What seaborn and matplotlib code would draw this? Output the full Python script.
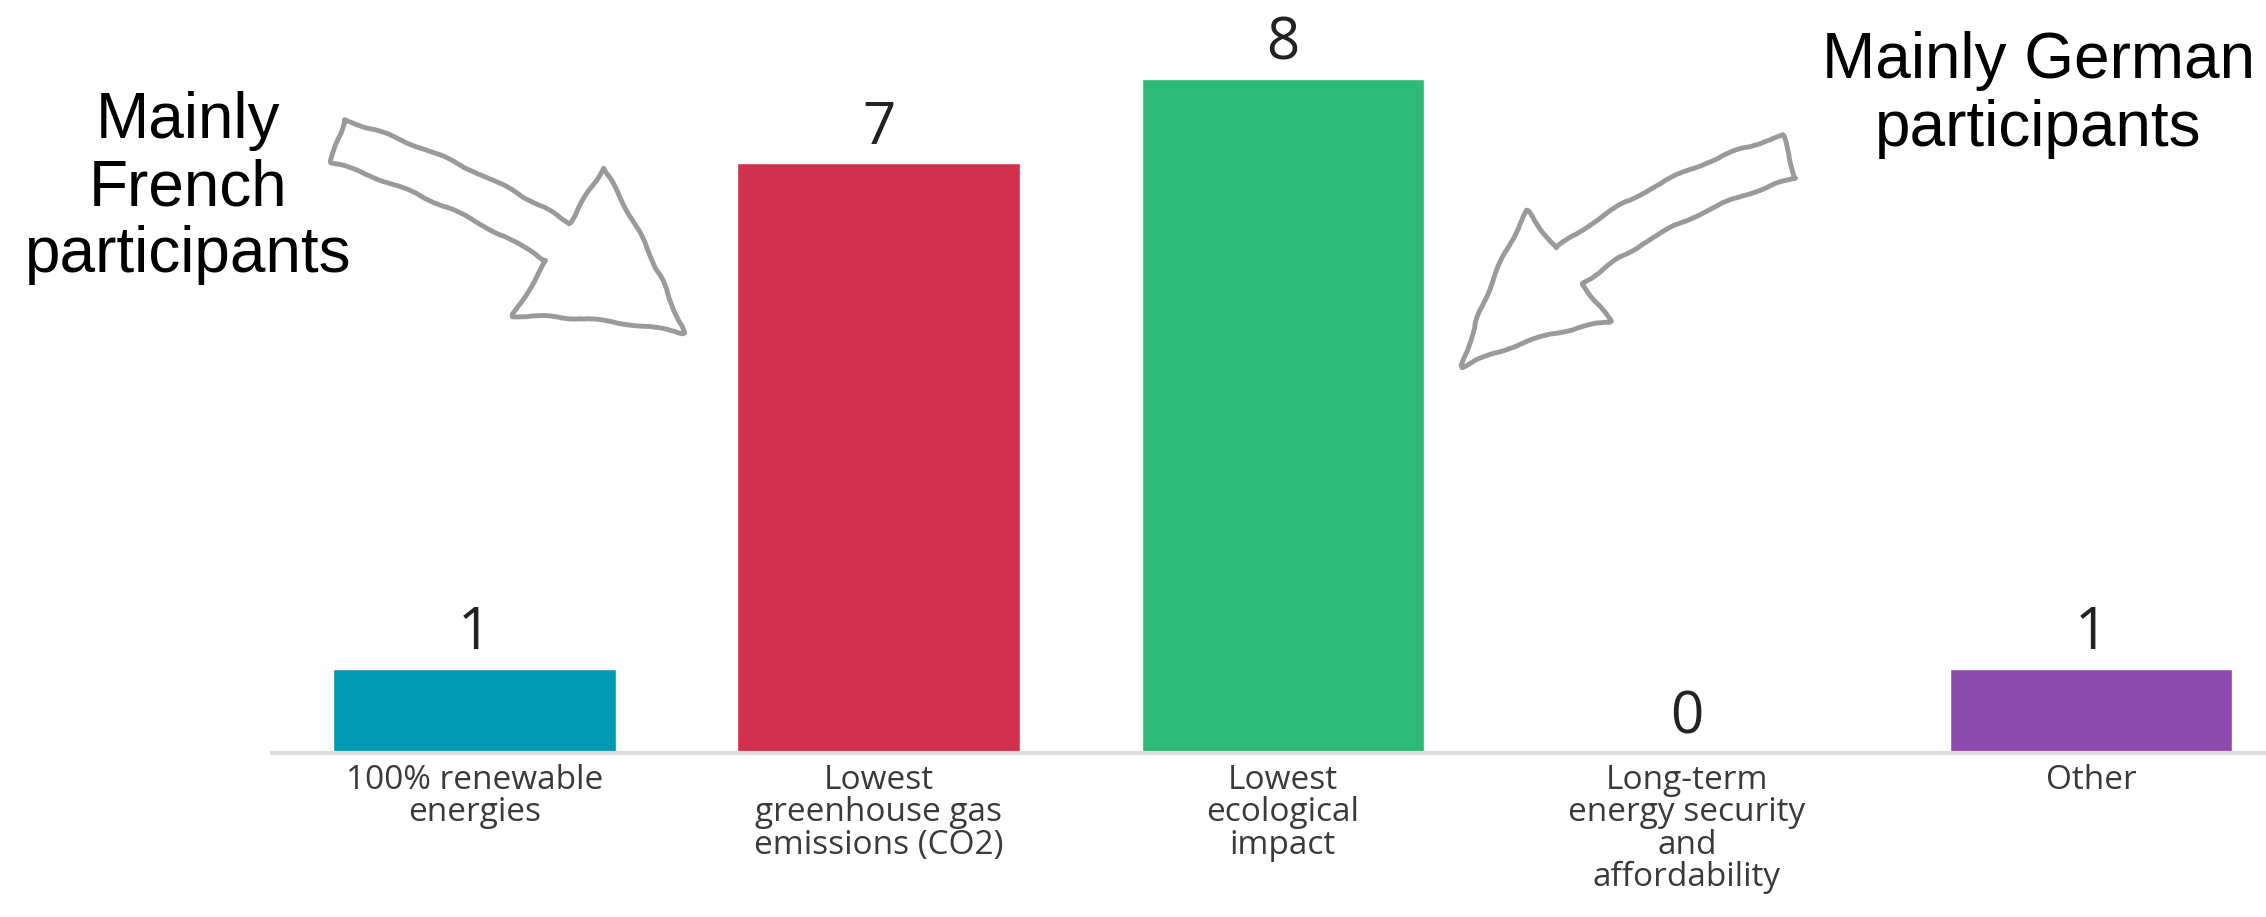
import pandas as pd
import matplotlib.pyplot as plt
import seaborn as sns
from matplotlib.patches import FancyArrowPatch

categories = ['100% renewable\nenergies', 'Lowest\ngreenhouse gas\nemissions (CO2)',
              'Lowest\necological\nimpact', 'Long-term\nenergy security\nand\naffordability', 'Other']
votes = [1, 7, 8, 0, 1]
colors = ['#0099B6', '#D3304C', '#2DB976', '#8E4BAE', '#8E4BAE']

data = pd.DataFrame({'category': categories, 'votes': votes})

sns.set_style('white')
plt.rcParams['font.family'] = ['Open Sans', 'DejaVu Sans']

fig = plt.figure(figsize=(22.66, 9.17), dpi=100)
ax = fig.add_axes([272 / 2266, 164 / 917, 1 - 272 / 2266, 753 / 917])

sns.barplot(x='category', y='votes', hue='category', data=data, palette=colors,
            width=0.7, legend=False, saturation=1, ax=ax)

for c in ax.containers:
    ax.bar_label(c, padding=4, fontsize=42, color='#222222')

ax.set_xlim(-0.502, 4.433)
ax.set_ylim(0, 8.94)
ax.set_xlabel('')
ax.set_ylabel('')
ax.set_yticks([])
ax.tick_params(axis='x', length=0, pad=8, labelsize=24, labelcolor='#3a3a3a')
for lab in ax.get_xticklabels():
    lab.set_linespacing(0.97)
for s in ['top', 'left', 'right']:
    ax.spines[s].set_visible(False)
ax.spines['bottom'].set_color('#dddddd')
ax.spines['bottom'].set_linewidth(3)

# annotations
fig.text(188 / 2266, 1 - 188 / 917, 'Mainly\nFrench\nparticipants', ha='center', va='center',
         fontsize=46, family=['Liberation Sans', 'DejaVu Sans'], color='black', linespacing=1.15)
fig.text(2038 / 2266, 1 - 95 / 917, 'Mainly German\nparticipants', ha='center', va='center',
         fontsize=46, family=['Liberation Sans', 'DejaVu Sans'], color='black', linespacing=1.15)

def px(x, y):
    return (x / 2266, 1 - y / 917)

arrows = [
    (px(335, 140), px(686, 335), -0.1, 'simple,head_length=112,head_width=125,tail_width=32'),
    (px(1792, 156), px(1460, 369), 0.15, 'simple,head_length=106,head_width=100,tail_width=32'),
]
for start, end, rad, style in arrows:
    arr = FancyArrowPatch(start, end, transform=fig.transFigure, arrowstyle=style,
                          connectionstyle=f'arc3,rad={rad}', mutation_scale=1,
                          facecolor='white', edgecolor='#9a9a9a', linewidth=3.5)
    arr.set_sketch_params(scale=1, length=80, randomness=4)
    fig.patches.append(arr)

fig.savefig('out.png', dpi=100)
